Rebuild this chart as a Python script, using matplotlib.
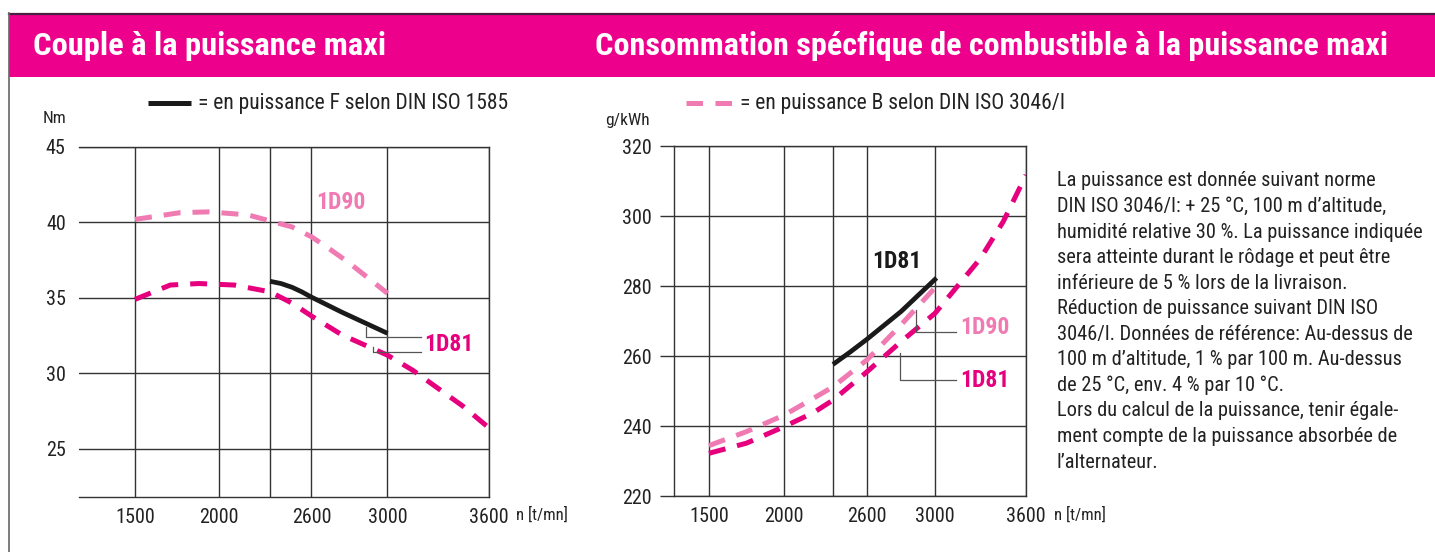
import numpy as np
import matplotlib
matplotlib.use('Agg')
import matplotlib.pyplot as plt
from matplotlib.lines import Line2D
from matplotlib.patches import Rectangle

plt.rcParams['font.family'] = ['Liberation Sans Narrow', 'Roboto Condensed', 'Liberation Sans', 'DejaVu Sans']

# ---------------- data ----------------
rpm_ticks = [1500, 2000, 2300, 2600, 3000, 3600]
rpm_tick_labels = ['1500', '2000', '', '2600', '3000', '3600']

torque_ticks = [25, 30, 35, 40, 45]
consumption_ticks = [220, 240, 260, 280, 300, 320]

# Couple (Nm)
torque_1d90_rpm = [1500, 1770, 1940, 2170, 2300, 2460, 2600, 2700, 2800, 2910, 3000]
torque_1d90 = [40.2, 40.65, 40.7, 40.5, 40.1, 39.7, 39.05, 38.2, 37.3, 36.2, 35.3]
torque_1d81_rpm = [1500, 1710, 1880, 2090, 2300, 2460, 2600, 2760, 3000, 3150, 3300, 3450, 3600]
torque_1d81 = [34.9, 35.85, 35.95, 35.85, 35.4, 34.65, 33.8, 32.55, 31.2, 30.2, 29.0, 27.8, 26.4]
torque_F_rpm = [2300, 2380, 2460, 2530, 2600, 2760, 2880, 3000]
torque_F_1d81 = [36.1, 35.95, 35.7, 35.4, 35.05, 34.05, 33.35, 32.65]

# Consommation spécifique (g/kWh)
cons_1d90_rpm = [1500, 1750, 2000, 2180, 2300, 2600, 2800, 3000]
cons_1d90 = [234.4, 238.4, 243.1, 247.9, 251.2, 258.9, 268.9, 279.5]
cons_1d81_rpm = [1500, 1750, 2000, 2180, 2300, 2600, 2800, 3000, 3300, 3450, 3600]
cons_1d81 = [232.2, 235.1, 239.8, 243.8, 247.4, 255.5, 264.1, 272.2, 287.9, 298.4, 311.7]
cons_F_rpm = [2300, 2450, 2600, 2800, 3010]
cons_F_1d81 = [257.6, 261.1, 264.8, 272.7, 282.3]

title_left = "Couple à la puissance maxi"
title_right = "Consommation spécfique de combustible à la puissance maxi"
legend_left = "= en puissance F selon DIN ISO 1585"
legend_right = "= en puissance B selon DIN ISO 3046/I"
note_lines = [
    "La puissance est donnée suivant norme",
    "DIN ISO 3046/I: + 25 °C, 100 m d’altitude,",
    "humidité relative 30 %. La puissance indiquée",
    "sera atteinte durant le rôdage et peut être",
    "inférieure de 5 % lors de la livraison.",
    "Réduction de puissance suivant DIN ISO",
    "3046/I. Données de référence: Au-dessus de",
    "100 m d’altitude, 1 % par 100 m. Au-dessus",
    "de 25 °C, env. 4 % par 10 °C.",
    "Lors du calcul de la puissance, tenir égale-",
    "ment compte de la puissance absorbée de",
    "l’alternateur.",
]

# ---------------- styles ----------------
MAGENTA = '#E6007E'
PINK = '#F07AB2'
BANNER = '#EC008C'
GRID = '#333333'
TXT = '#222222'
W, H = 1435, 552

fig = plt.figure(figsize=(W / 100, H / 100), dpi=100)


def fx(px):
    return px / W


def fy(py):
    return 1 - py / H


def rpm_scale(knots_rpm, knots_pos):
    kr = np.asarray(knots_rpm, float)
    kp = np.asarray(knots_pos, float)
    s0 = (kp[1] - kp[0]) / (kr[1] - kr[0])
    s1 = (kp[-1] - kp[-2]) / (kr[-1] - kr[-2])
    kr2 = np.r_[kr[0] - 1e5, kr, kr[-1] + 1e5]
    kp2 = np.r_[kp[0] - 1e5 * s0, kp, kp[-1] + 1e5 * s1]
    return (lambda x: np.interp(x, kr2, kp2)), (lambda y: np.interp(y, kp2, kr2))


# frame + banner
fig.add_artist(Rectangle((fx(9), fy(77)), fx(W) - fx(9), fy(14) - fy(77),
                         transform=fig.transFigure, color=BANNER, lw=0))
fig.add_artist(Line2D([fx(9), 1], [fy(13.5), fy(13.5)], transform=fig.transFigure,
                      color='#4a2040', lw=1.6))
fig.add_artist(Line2D([fx(9), fx(9)], [fy(13), 0], transform=fig.transFigure,
                      color='#666666', lw=1.2))
fig.text(fx(33), fy(46), title_left, color='white', fontsize=23.4, fontweight='bold',
         ha='left', va='center')
fig.text(fx(595), fy(46), title_right, color='white', fontsize=23.2, fontweight='bold',
         ha='left', va='center')

TICK_FS = 14.5
LBL_FS = 17
LEG_FS = 15.5


def style_axes(ax, hide_left):
    ax.grid(True, color=GRID, lw=1.0)
    ax.set_axisbelow(True)
    for s in ax.spines.values():
        s.set_color(GRID)
        s.set_linewidth(1.0)
    if hide_left:
        ax.spines['left'].set_visible(False)
    ax.tick_params(axis='x', length=0, pad=8, labelsize=TICK_FS, labelcolor=TXT)


dash_kw = dict(lw=3.6, dashes=(3.4, 2.4), dash_capstyle='butt', solid_capstyle='butt')

# ---------------- left chart ----------------
axL = fig.add_axes([fx(79), fy(497), fx(488.6) - fx(79), fy(147) - fy(497)])
fwdL, invL = rpm_scale(rpm_ticks, [135, 219, 270, 311.4, 387.5, 488.6])
axL.set_xscale('function', functions=(fwdL, invL))
axL.set_xlim(float(invL(79)), 3600)
axL.set_ylim(21.8, 45)
axL.set_xticks(rpm_ticks, rpm_tick_labels)
axL.set_yticks(torque_ticks)
style_axes(axL, True)
axL.tick_params(axis='y', length=0, pad=9.5, labelsize=TICK_FS, labelcolor=TXT)

axL.plot(torque_1d90_rpm, torque_1d90, color=PINK, **dash_kw)
axL.plot(torque_1d81_rpm, torque_1d81, color=MAGENTA, **dash_kw)
axL.plot(torque_F_rpm, torque_F_1d81, color='#1a1a1a', lw=3.4, solid_capstyle='butt',
         solid_joinstyle='round')

axL.text(2626, 41.3, '1D90', color=PINK, fontsize=LBL_FS, fontweight='bold', ha='left', va='center')
axL.text(3217, 31.9, '1D81', color=MAGENTA, fontsize=LBL_FS, fontweight='bold', ha='left', va='center')
axL.plot([2889, 2889, 3200], [33.08, 32.42, 32.42], color='#555555', lw=0.9)
axL.plot([2926, 2926, 3200], [31.76, 31.42, 31.42], color='#555555', lw=0.9)

fig.text(fx(43), fy(118), 'Nm', fontsize=12.5, color=TXT, ha='left', va='center')
fig.text(fx(516), fy(515), 'n [t/mn]', fontsize=12, color=TXT, ha='left', va='center')
fig.add_artist(Line2D([fx(148), fx(191)], [fy(103), fy(103)], transform=fig.transFigure,
                      color='#1a1a1a', lw=3.6, solid_capstyle='butt'))
fig.text(fx(198), fy(103), legend_left, fontsize=LEG_FS, color=TXT, ha='left', va='center')

# ---------------- right chart ----------------
axR = fig.add_axes([fx(674), fy(496), fx(1026) - fx(674), fy(146) - fy(496)])
fwdR, invR = rpm_scale(rpm_ticks, [709, 784, 833, 867, 935, 1026])
axR.set_xscale('function', functions=(fwdR, invR))
axR.set_xlim(float(invR(674)), 3600)
axR.set_ylim(220, 320)
axR.set_xticks(rpm_ticks, rpm_tick_labels)
axR.set_yticks(consumption_ticks)
style_axes(axR, False)
axR.tick_params(axis='y', length=10, width=1.0, color=GRID, pad=6, labelsize=TICK_FS, labelcolor=TXT)

axR.plot(cons_1d90_rpm, cons_1d90, color=PINK, **dash_kw)
axR.plot(cons_1d81_rpm, cons_1d81, color=MAGENTA, **dash_kw)
axR.plot(cons_F_rpm, cons_F_1d81, color='#1a1a1a', lw=3.4, solid_capstyle='butt',
         solid_joinstyle='round')

axR.text(2629, 286.9, '1D81', color='#1a1a1a', fontsize=LBL_FS, fontweight='bold', ha='left', va='center')
axR.text(3165, 268.0, '1D90', color=PINK, fontsize=LBL_FS, fontweight='bold', ha='left', va='center')
axR.text(3165, 253.1, '1D81', color=MAGENTA, fontsize=LBL_FS, fontweight='bold', ha='left', va='center')
axR.plot([2888, 2888, 3138], [273.1, 266.9, 266.9], color='#555555', lw=0.9)
axR.plot([2794, 2794, 3138], [260.9, 253.1, 253.1], color='#555555', lw=0.9)

fig.text(fx(605), fy(120), 'g/kWh', fontsize=12.5, color=TXT, ha='left', va='center')
fig.text(fx(1054), fy(515), 'n [t/mn]', fontsize=12, color=TXT, ha='left', va='center')
fig.add_artist(Line2D([fx(686), fx(732)], [fy(103), fy(103)], transform=fig.transFigure,
                      color=PINK, lw=3.6, dashes=(3.3, 2.5), dash_capstyle='butt'))
fig.text(fx(740), fy(103), legend_right, fontsize=LEG_FS, color=TXT, ha='left', va='center')

# ---------------- note text ----------------
for i, line in enumerate(note_lines):
    fig.text(fx(1057), fy(181 + i * 25.55), line, fontsize=14.7, color=TXT,
             ha='left', va='center')

fig.savefig('out.png', dpi=100)
